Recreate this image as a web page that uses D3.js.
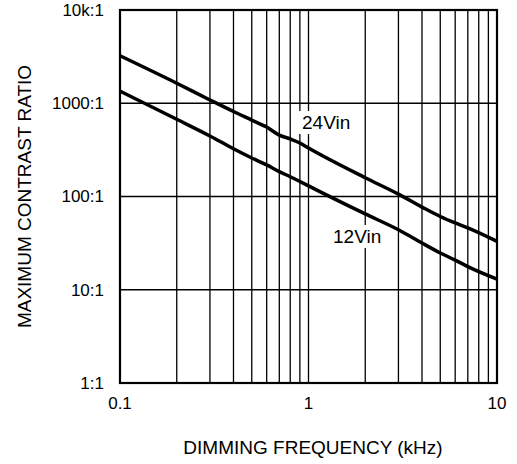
<!DOCTYPE html>
<html>
<head>
<meta charset="utf-8">
<script src="https://cdn.jsdelivr.net/npm/d3@7"></script>
<style>
  html, body { margin: 0; padding: 0; background: #fff; overflow: hidden; }
  svg { display: block; }
  text { font-family: "Liberation Sans", Arial, sans-serif; fill: #000; }
</style>
</head>
<body>
<div id="chart"></div>
<script>
// data //
const freq = [0.1, 0.2, 0.3, 0.4, 0.5, 0.6, 0.7, 0.8, 0.9, 1, 2, 3, 4, 5, 6, 7, 10]
const ratio24 = [3230, 1640, 1085, 815, 660, 555, 455, 414, 375, 331, 159, 106, 77, 61, 52, 46, 33]
const ratio12 = [1350, 673, 446, 325, 259, 218, 185, 163, 145, 130, 65, 44, 31.7, 24.8, 20.8, 17.7, 13]
const xTicks = [0.1, 1, 10]
const xTickLabels = ['0.1', '1', '10']
const yTicks = [1, 10, 100, 1000, 10000]
const yTickLabels = ['1:1', '10:1', '100:1', '1000:1', '10k:1']
const xMinor = [0.2, 0.3, 0.4, 0.5, 0.6, 0.7, 0.8, 0.9, 2, 3, 4, 5, 6, 7, 8, 9]

// svg //
const width = 517
const height = 464
const margin = { top: 10, right: 20, bottom: 81, left: 120 }
const innerWidth = width - margin.left - margin.right
const innerHeight = height - margin.top - margin.bottom

const svg = d3.select('#chart').append('svg')
  .attr('width', width)
  .attr('height', height)

const main = svg.append('g')
  .attr('transform', `translate(${margin.left}, ${margin.top})`)

const x = d3.scaleLog().domain([0.1, 10]).range([0, innerWidth])
const y = d3.scaleLog().domain([1, 10000]).range([innerHeight, 0])

// grid
main.selectAll('.vgrid')
  .data(xMinor.concat([1]))
  .enter()
  .append('line')
  .attr('x1', d => x(d)).attr('x2', d => x(d))
  .attr('y1', 0).attr('y2', innerHeight)
  .attr('stroke', '#000')
  .attr('stroke-width', 1.3)

main.selectAll('.hgrid')
  .data(yTicks.slice(1, -1))
  .enter()
  .append('line')
  .attr('x1', 0).attr('x2', innerWidth)
  .attr('y1', d => y(d)).attr('y2', d => y(d))
  .attr('stroke', '#000')
  .attr('stroke-width', 1.3)

// frame
main.append('rect')
  .attr('width', innerWidth)
  .attr('height', innerHeight)
  .attr('fill', 'none')
  .attr('stroke', '#000')
  .attr('stroke-width', 2.2)

// curves
const line = d3.line()
  .x((d, i) => x(freq[i]))
  .y(d => y(d))
  .curve(d3.curveMonotoneX)

main.append('path')
  .datum(ratio24)
  .attr('d', line)
  .attr('fill', 'none')
  .attr('stroke', '#000')
  .attr('stroke-width', 3.5)

main.append('path')
  .datum(ratio12)
  .attr('d', line)
  .attr('fill', 'none')
  .attr('stroke', '#000')
  .attr('stroke-width', 3.5)

// labels on curves
const addLabel = (txt, px, py) => {
  const g = main.append('g')
  const t = g.append('text')
    .attr('x', px)
    .attr('y', py)
    .style('font-size', '19px')
    .text(txt)
  const bb = t.node().getBBox()
  g.insert('rect', 'text')
    .attr('x', bb.x - 3)
    .attr('y', bb.y - 1)
    .attr('width', bb.width + 6)
    .attr('height', bb.height + 2)
    .attr('fill', '#fff')
}
addLabel('24Vin', 182, 119)
addLabel('12Vin', 213, 233)

// ticks
main.selectAll('.xlabel')
  .data(xTicks)
  .enter()
  .append('text')
  .attr('x', d => x(d))
  .attr('y', innerHeight + 26)
  .attr('text-anchor', 'middle')
  .style('font-size', '17px')
  .text((d, i) => xTickLabels[i])

main.selectAll('.ylabel')
  .data(yTicks)
  .enter()
  .append('text')
  .attr('x', -16)
  .attr('y', d => y(d))
  .attr('dy', '0.35em')
  .attr('text-anchor', 'end')
  .style('font-size', '17px')
  .text((d, i) => yTickLabels[i])

// axis titles
svg.append('text')
  .attr('x', 313)
  .attr('y', 454)
  .attr('text-anchor', 'middle')
  .style('font-size', '19px')
  .text('DIMMING FREQUENCY (kHz)')

svg.append('text')
  .attr('transform', `translate(31, ${margin.top + innerHeight / 2}) rotate(-90)`)
  .attr('text-anchor', 'middle')
  .style('font-size', '19px')
  .text('MAXIMUM CONTRAST RATIO')
</script>
</body>
</html>
